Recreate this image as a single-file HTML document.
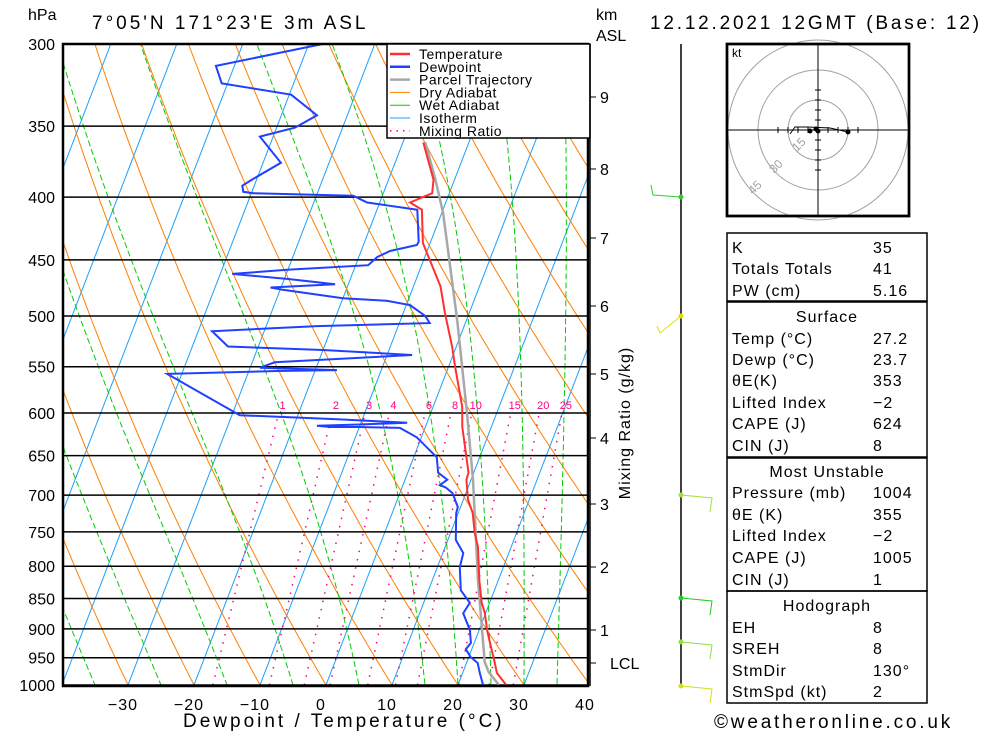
<!DOCTYPE html>
<html><head><meta charset="utf-8">
<style>
body{margin:0;background:#fff;}
svg text{font-family:"Liberation Sans",sans-serif;fill:#000;}
</style></head>
<body>
<svg id="chart" width="1000" height="733" viewBox="0 0 1000 733" xmlns="http://www.w3.org/2000/svg">
<defs><clipPath id="plotclip"><rect x="63" y="44" width="525" height="642"/></clipPath></defs>
<rect width="1000" height="733" fill="#fff"/>
<g id="bg" clip-path="url(#plotclip)"></g>
<g id="plines"></g>
<g id="series" clip-path="url(#plotclip)"></g>
<rect x="63" y="44" width="525" height="642" fill="none" stroke="#000" stroke-width="2.5"/>
<g id="axes"></g>
<text x="28" y="20" font-size="16">hPa</text>
<text x="92" y="29" font-size="19" letter-spacing="3">7°05'N  171°23'E  3m  ASL</text>
<text x="596" y="20" font-size="16">km</text>
<text x="596" y="41" font-size="16">ASL</text>
<text x="650" y="29" font-size="19" letter-spacing="2.8">12.12.2021  12GMT  (Base: 12)</text>
<text x="183" y="727" font-size="19" letter-spacing="3">Dewpoint / Temperature (°C)</text>
<text transform="translate(630,423) rotate(-90)" text-anchor="middle" font-size="16" letter-spacing="1">Mixing Ratio (g/kg)</text>
<g id="legend">
<rect x="387" y="44" width="203" height="94" fill="#fff" stroke="#000" stroke-width="1.5"/>
</g>
<g id="km"></g>
<g id="wind"></g>
<g id="hodo"></g>
<g id="table"></g>
<text x="714" y="728" font-size="19" letter-spacing="2.8">©weatheronline.co.uk</text>
</svg>
<script>
// ---- data ----
const tempP = [1000,977.7,954,924,902,874,857,821,772,752,724,706,680,671,616,593,550,530,497,473,436,409.5,404,397,387,361];
const tempT = [27.3,25.2,24.0,22.4,21.2,19.9,18.8,17.1,15.0,13.7,12.2,10.7,9.3,9.2,5.6,4.4,1.0,-0.6,-3.7,-5.9,-11.1,-13.2,-15.4,-12.6,-13.2,-16.9];
const dewP = [1000,977.7,959.5,949,935,924,902,874,857,837,801.5,780.5,761.5,724,716,697.5,690,687,680,671,652,628,617,616,616,614.5,613,611,607,602.5,557.5,554.5,553.5,551,545.5,538,533,529.5,514.5,509.6,506.7,500,490,486,483.6,476,474,471,466.5,462,458.5,454.5,447.6,442.6,437.6,435,409.5,404,399,397,396,391.5,387,375,357,351,343,330,323,312.6,300];
const dewT = [23.8,22.6,21.7,20.3,19.1,19.5,18.6,16.6,17.0,14.9,13.4,13.1,11.2,9.7,9.6,8.0,6.6,5.6,6.4,4.6,3.5,-0.7,-3.8,-10.3,-14.4,-16.5,-9.6,-3.0,-13.8,-28.8,-42.2,-25.7,-16.7,-28.5,-26.6,-6.2,-20.0,-34.6,-37.9,-22.3,-5.4,-6.5,-9.4,-13.2,-20.0,-29.6,-31.6,-22.0,-29.4,-38.2,-30.1,-18.1,-17.2,-15.6,-11.9,-11.8,-13.9,-21.9,-24.4,-39.7,-41.3,-41.8,-40.7,-37.3,-42.0,-37.2,-34.6,-39.7,-50.9,-52.8,-37.9];
const parcelP = [1000,975.9,957.7,821,680,600,504,412,387,361];
const parcelT = [26.2,23.9,22.7,16.9,10.3,5.5,-1.4,-9.8,-12.9,-16.6];
const pressureTicks = [300,350,400,450,500,550,600,650,700,750,800,850,900,950,1000];
const tempTicks = [-30,-20,-10,0,10,20,30,40];
const mixRatios = [1,2,3,4,6,8,10,15,20,25];
const wetThetas = [-35,-25,-15,-5,5,15,20,25,30,35];
const kmLabels = ['9','8','7','6','5','4','3','2','1'];
const kmHeights = [9,8,7,6,5,4,3,2,1];

// ---- axis functions ----
const Y0=685, LOGR=Math.log(1000/300), HPX=641, TPX=6.6, T0X=326, SKEW=0.385;
function yP(p){return Y0 - Math.log(1000/p)/LOGR*HPX;}
function xT(t,p){return T0X + t*TPX + SKEW*(Y0 - yP(p));}
const NS='http://www.w3.org/2000/svg';
function mk(tag,parent,attrs){const e=document.createElementNS(NS,tag);for(const k in attrs)e.setAttribute(k,attrs[k]);parent.appendChild(e);return e;}
function pathFrom(ps,ts){let d='';for(let i=0;i<ps.length;i++){d+=(i?'L':'M')+xT(ts[i],ps[i]).toFixed(1)+' '+yP(ps[i]).toFixed(1);}return d;}
const bg=document.getElementById('bg');

// isotherms
for(let t=-120;t<=40;t+=10){
  const l=mk('line',bg,{x1:xT(t,1050),y1:yP(1050),x2:xT(t,280),y2:yP(280),stroke:'#1aa0ff','stroke-width':1});
  
  
}
// dry adiabats
for(let th=-60;th<=130;th+=10){
  const ps=[],ts=[];
  for(let p=1050;p>=280;p-=10){ps.push(p);ts.push((th+273.15)*Math.pow(p/1000,0.2857)-273.15);}
  const e=mk('path',bg,{d:pathFrom(ps,ts),fill:'none',stroke:'#ff7f00','stroke-width':1});
  
  
}
// wet adiabats
function es(t){return 6.112*Math.exp(17.67*t/(t+243.5));}
function step(T,p,dp){const rs=0.622*es(T-273.15)/(p-es(T-273.15));const num=287*T+2.5e6*rs;const den=1004+2.5e6*2.5e6*rs*0.622/(287*T*T);return T+num/den/p*dp;}
wetThetas.forEach(tw=>{
  const ps=[],ts=[];
  const pts=[];
  let Td=tw+273.15;for(let q=1000;q<1050;q+=2){Td=step(Td,q,2);} pts.push([1050,Td]);
  let T=tw+273.15;
  for(let p=1000;p>=280;p-=2){pts.push([p,T]);T=step(T,p,-2);}
  pts.forEach(a=>{ps.push(a[0]);ts.push(a[1]-273.15);});
  const e=mk('path',bg,{d:pathFrom(ps,ts),fill:'none',stroke:'#00cc00','stroke-width':1,'stroke-dasharray':'6,3'});
  
  
});
// mixing ratio lines
function tdFromW(w,p){const e=w*p/(622+w);const l=Math.log(e/6.112);return 243.5*l/(17.67-l);}
mixRatios.forEach(w=>{
  const ps=[1000,600],ts=[tdFromW(w,1000),tdFromW(w,600)];
  const e=mk('path',bg,{d:pathFrom(ps,ts),fill:'none',stroke:'#ff0080','stroke-width':1.5,'stroke-dasharray':'1.5,7'});
  
  
  const t=mk('text',document.getElementById('axes'),{x:xT(ts[1],600)+4,y:yP(600)-4,'font-size':11,'text-anchor':'middle',style:'fill:#ff0080'});
  t.textContent=w;
  
  
});
// pressure lines and labels
const pl=document.getElementById('plines'),ax=document.getElementById('axes');
pressureTicks.forEach(p=>{
  const l=mk('line',pl,{x1:63,x2:588,y1:yP(p),y2:yP(p),stroke:'#000','stroke-width':1.5});
  
  
  const t=mk('text',ax,{x:55,y:yP(p)+6,'font-size':16,'text-anchor':'end'});
  t.textContent=p;
  
  
});
tempTicks.forEach(v=>{
  const t=mk('text',ax,{x:xT(v,1000)-5,y:710,'font-size':16,'text-anchor':'middle','letter-spacing':1});
  t.textContent=(v<0?'\u2212':'')+Math.abs(v);
  
  
});
// series
const sr=document.getElementById('series');
let e=mk('path',sr,{d:pathFrom(parcelP,parcelT),fill:'none',stroke:'#a8a8a8','stroke-width':2.5});


e=mk('path',sr,{d:pathFrom(dewP,dewT),fill:'none',stroke:'#2040ff','stroke-width':2});


e=mk('path',sr,{d:pathFrom(tempP,tempT),fill:'none',stroke:'#ff3030','stroke-width':2});



// legend
const lg=document.getElementById('legend');
const legNames=['Temperature','Dewpoint','Parcel Trajectory','Dry Adiabat','Wet Adiabat','Isotherm','Mixing Ratio'];
const legCols=['#ff3030','#2040ff','#a8a8a8','#ff7f00','#00cc00','#1aa0ff','#ff0080'];
const legW=[2.5,2.5,2.5,1,1,1,1.5];
legNames.forEach((n,i)=>{
  const y=54+i*12.8;
  const l=mk('line',lg,{x1:390,x2:410,y1:y,y2:y,stroke:legCols[i],'stroke-width':legW[i]});
  if(i===6)l.setAttribute('stroke-dasharray','1.5,5');
  
  
  const t=mk('text',lg,{x:419,y:y+5,'font-size':14,'letter-spacing':0.5});
  t.textContent=n;
  
  
});

// km axis
const km=document.getElementById('km');
const kmY=[97,169,238,306,374,438,504,567,630];
mk('line',km,{x1:590,x2:590,y1:44,y2:686,stroke:'#000','stroke-width':1.5});
kmLabels.forEach((s,i)=>{
  mk('line',km,{x1:590,x2:596,y1:kmY[i],y2:kmY[i],stroke:'#000'});
  const t=mk('text',km,{x:600,y:kmY[i]+6,'font-size':16});
  t.textContent=s;
  
  
});
mk('line',km,{x1:590,x2:596,y1:663,y2:663,stroke:'#000'});
let lt=mk('text',km,{x:610,y:669,'font-size':16});lt.textContent='LCL';



// wind barbs
const wd=document.getElementById('wind');
mk('line',wd,{x1:681,x2:681,y1:44,y2:686,stroke:'#000','stroke-width':1.5});
const barbs=[[197,'#30cc30',-1],[316,'#e0e000',-2],[495,'#a0e040',1],[598,'#20cc20',1],[642,'#90e040',1],[686,'#d0e020',1]];
barbs.forEach(b=>{
  const y=b[0],c=b[1];
  if(b[2]===-1){mk('polyline',wd,{points:`681,${y} 653,${y-2} 651,${y-12}`,fill:'none',stroke:c});}
  else if(b[2]===-2){mk('polyline',wd,{points:`681,${y} 660,${y+17} 657,${y+10}`,fill:'none',stroke:c});}
  else{mk('polyline',wd,{points:`681,${y} 712,${y+3} 710,${y+17}`,fill:'none',stroke:c});}
  mk('circle',wd,{cx:681,cy:y,r:2.5,fill:c});
});

// hodograph
const hd=document.getElementById('hodo');
mk('rect',hd,{x:727,y:44,width:182,height:172,fill:'#fff',stroke:'#000','stroke-width':2.5});
[30,60,90].forEach(r=>mk('circle',hd,{cx:818,cy:130,r:r,fill:'none',stroke:'#a0a0a0'}));
mk('rect',hd,{x:727,y:44,width:182,height:172,fill:'none',stroke:'#000','stroke-width':2.5});
mk('line',hd,{x1:727,x2:909,y1:130,y2:130,stroke:'#000'});
mk('line',hd,{x1:818,x2:818,y1:44,y2:216,stroke:'#000'});
for(let i=-4;i<=4;i++){if(!i)continue;mk('line',hd,{x1:818+i*10,x2:818+i*10,y1:127,y2:133,stroke:'#000'});mk('line',hd,{x1:815,x2:821,y1:130+i*10,y2:130+i*10,stroke:'#000'});}
mk('polyline',hd,{points:'790,134 795,127 808,127 830,128 848,132',fill:'none',stroke:'#000'});
[[810,131],[816,129],[818,131],[848,132]].forEach(p=>mk('circle',hd,{cx:p[0],cy:p[1],r:2.5,fill:'#000'}));
let kt=mk('text',hd,{x:732,y:57,'font-size':12});kt.textContent='kt';
[['15',797,152],['30',774,174],['45',753,195]].forEach(a=>{const t=mk('text',hd,{x:a[1],y:a[2],'font-size':12,transform:`rotate(-45 ${a[1]} ${a[2]})`,style:'fill:#a0a0a0'});t.textContent=a[0];});

// table
const tb=document.getElementById('table');
[[233,301],[302,457],[458,591],[591,703]].forEach(s=>mk('rect',tb,{x:727,y:s[0],width:200,height:s[1]-s[0],fill:'none',stroke:'#000','stroke-width':1.5}));
const rows=[['K','35',247],['Totals Totals','41',268],['PW (cm)','5.16',290],['#Surface','',316],['Temp (°C)','27.2',338],['Dewp (°C)','23.7',359],['θE(K)','353',380],['Lifted Index','\u22122',402],['CAPE (J)','624',423],['CIN (J)','8',445],['#Most Unstable','',471],['Pressure (mb)','1004',492],['θE (K)','355',514],['Lifted Index','\u22122',535],['CAPE (J)','1005',557],['CIN (J)','1',579],['#Hodograph','',605],['EH','8',627],['SREH','8',648],['StmDir','130°',670],['StmSpd (kt)','2',691]];
rows.forEach(r=>{
  if(r[0][0]==='#'){const t=mk('text',tb,{x:827,y:r[2]+6,'font-size':16,'text-anchor':'middle','letter-spacing':1});t.textContent=r[0].slice(1);
    
    return;}
  const a=mk('text',tb,{x:732,y:r[2]+6,'font-size':16,'letter-spacing':1});a.textContent=r[0];
  
  
  const b=mk('text',tb,{x:873,y:r[2]+6,'font-size':16,'letter-spacing':1});b.textContent=r[1];
  
  
});
</script>
</body></html>
